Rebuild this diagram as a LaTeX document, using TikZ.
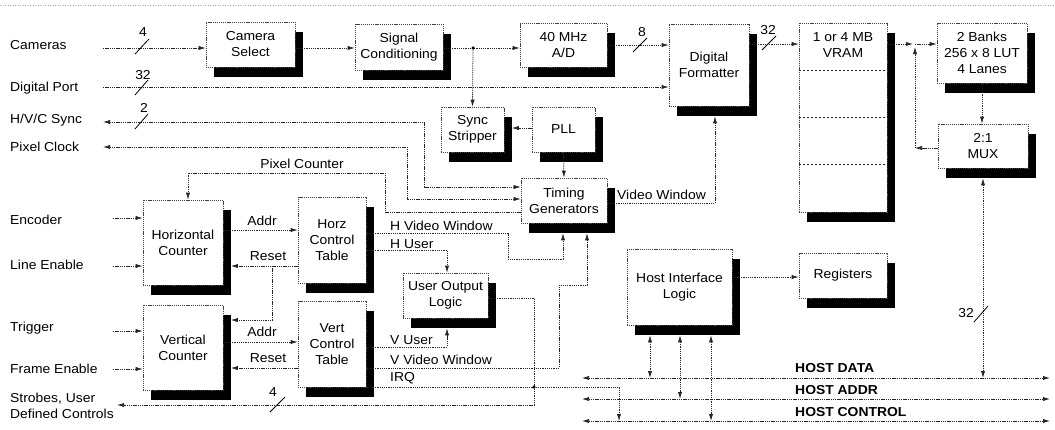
\documentclass[tikz,border=0pt]{standalone}
\usepackage{fontspec}
\setmainfont[FakeStretch=1.07]{Liberation Sans}
\usetikzlibrary{arrows.meta,calc}
\newcommand\mybox[5]{%
  \node[shad, minimum width=#3, minimum height=#4] (#1s) at ($(#2)+(7.5,10)$) {};
  \node[blk, minimum width=#3, minimum height=#4] (#1) at (#2) {#5};}
\begin{document}
\begin{tikzpicture}[x=1pt,y=-1pt,
  font=\fontsize{13}{16}\selectfont,
  ln/.style={line width=0.75pt, dash pattern=on 1.3pt off 0.9pt, black!85},
  arr/.style={ln, -{Latex[length=7pt,width=4.2pt]}},
  darr/.style={ln, {Latex[length=7pt,width=4.2pt]}-{Latex[length=7pt,width=4.2pt]}},
  blk/.style={draw=black!75, line width=0.6pt, dash pattern=on 1.1pt off 0.8pt, fill=white, align=center, inner sep=0pt},
  shad/.style={fill=black, draw=none, inner sep=0pt},
  lbl/.style={anchor=west, inner sep=0pt},
  num/.style={inner sep=0pt},
  slash/.style={line width=0.8pt, black},
  dot/.style={circle, fill=black, inner sep=0pt, minimum size=3.5pt},
  divl/.style={line width=0.7pt, dash pattern=on 2.5pt off 1.5pt, black!85},
]
\useasboundingbox (0,0) rectangle (1055,429);
\draw[black!35, dash pattern=on 1pt off 1.5pt] (0,5) -- (1055,5);

% ---------- boxes ----------
\mybox{cam}{250.5,44.5}{89pt}{45pt}{Camera\\Select}
\mybox{sig}{399,47}{88pt}{46pt}{Signal\\Conditioning}
\mybox{ad}{563.5,45}{87pt}{44pt}{40 MHz\\A/D}
\mybox{df}{709,65}{80pt}{82pt}{Digital\\Formatter}
\mybox{vram}{843,117.5}{88pt}{189pt}{}
\node[align=center, inner sep=0pt] (vramtxt) at (843,45) {1 or 4 MB\\VRAM};
\mybox{lut}{982,53}{90pt}{60pt}{2 Banks\\256 x 8 LUT\\4 Lanes}
\mybox{mux}{983,146}{90pt}{44pt}{2:1\\MUX}
\mybox{sync}{472.5,129.5}{63pt}{45pt}{Sync\\Stripper}
\mybox{pll}{563.5,129.5}{63pt}{45pt}{PLL}
\mybox{tg}{564,200.5}{86pt}{45pt}{Timing\\Generators}
\mybox{hc}{183,242.5}{80pt}{85pt}{Horizontal\\Counter}
\mybox{hct}{332,240}{68pt}{86pt}{Horz\\Control\\Table}
\mybox{vc}{183,347.5}{80pt}{85pt}{Vertical\\Counter}
\mybox{vct}{332,344}{68pt}{86pt}{Vert\\Control\\Table}
\mybox{uol}{445.5,295.5}{85pt}{45pt}{User Output\\Logic}
\mybox{hil}{679.5,287}{105pt}{76pt}{Host Interface\\Logic}
\mybox{reg}{843,275.5}{88pt}{45pt}{Registers}

\draw[divl] (vram.west |- 0,70) -- (vram.east |- 0,70);
\draw[divl] (vram.west |- 0,117) -- (vram.east |- 0,117);
\draw[divl] (vram.west |- 0,164) -- (vram.east |- 0,164);

% ---------- left labels ----------
\node[lbl] (lcam) at (10,45) {Cameras};
\node[lbl] (ldp) at (10,88) {Digital Port};
\node[lbl] (lsync) at (10,120) {H/V/C Sync};
\node[lbl] (lpc) at (10,147) {Pixel Clock};
\node[lbl] (lenc) at (10,220) {Encoder};
\node[lbl] (lle) at (10,265) {Line Enable};
\node[lbl] (ltrig) at (10,328) {Trigger};
\node[lbl] (lfe) at (10,369) {Frame Enable};
\node[lbl, align=left] (lstr) at (10,406) {Strobes, User\\Defined Controls};

% ---------- free ends ----------
\coordinate (camin) at (103,48);
\coordinate (dpin) at (103,87);
\coordinate (syncout) at (103,122);
\coordinate (pcout) at (103,147);
\coordinate (encin) at (113,218);
\coordinate (lein) at (113,266);
\coordinate (trin) at (113,331);
\coordinate (fein) at (113,369);
\coordinate (strout) at (117,405);
\coordinate (hdL) at (582,378);
\coordinate (hdR) at (1050,378);
\coordinate (haL) at (582,399);
\coordinate (haR) at (1050,399);
\coordinate (hcL) at (582,421);
\coordinate (hcR) at (1050,421);
\coordinate (j2) at (915,44);
\coordinate (j3) at (915,148);

% ---------- video path ----------
\draw[arr] (camin) -- (cam.west |- camin);
\draw[arr] (cam.east |- camin) -- (sig.west |- camin);
\draw[arr] (sig.east |- camin) -- (ad.west |- camin);
\node[dot] (j1) at (473,48) {};
\draw[arr] (j1) -- (sync.north);
\draw[arr] (ad.east |- 0,45) -- (df.west |- 0,45);
\draw[arr] (dpin) -- (df.west |- dpin);
\draw[arr] (df.east |- 0,44) -- (vram.west |- 0,44);
\draw[arr] (vram.east |- j2) -- ([xshift=-2pt]j2);
\draw[arr] (j2) -- (lut.west |- j2);
\draw[arr] (mux.west |- j3) -- (j3);
\draw[arr] (j3) -- ([yshift=-3pt]j2);
\draw[arr] (lut.south) -- (lut.south |- mux.north);
\draw[darr, shorten <=10pt] (mux.south) -- (mux.south |- hdL);

% slashes
\draw[slash] (135,54) -- (149,39);  \node[num] (n4a) at (143,32) {4};
\draw[slash] (135,95) -- (148,80);  \node[num] (n32a) at (143,75) {32};
\draw[slash] (135,129) -- (148,114); \node[num] (n2) at (144,108) {2};
\draw[slash] (633,52) -- (647,38);  \node[num] (n8) at (642,32) {8};
\draw[slash] (762,50) -- (776,36);  \node[num] (n32b) at (768,30) {32};
\draw[slash] (974,322) -- (988,306); \node[num] (n32c) at (966,313) {32};
\draw[slash] (270,412) -- (285,397); \node[num] (n4b) at (273,392) {4};

% ---------- host buses ----------
\draw[darr] (hdL) -- (hdR);
\draw[darr] (haL) -- (haR);
\draw[darr] (hcL) -- (hcR);
\node[lbl, font=\fontsize{13}{16}\selectfont\bfseries] (thd) at (795,368) {HOST DATA};
\node[lbl, font=\fontsize{13}{16}\selectfont\bfseries] (tha) at (795,390) {HOST ADDR};
\node[lbl, font=\fontsize{13}{16}\selectfont\bfseries] (thc) at (795,412) {HOST CONTROL};
\draw[darr, shorten <=10pt] (650,0 |- hil.south) -- (650,0 |- hdL);
\draw[darr, shorten <=10pt] (680,0 |- hil.south) -- (680,0 |- haL);
\draw[darr, shorten <=10pt] (711,0 |- hil.south) -- (711,0 |- hcL);
\draw[arr] (hil.east |- 0,277) -- (reg.west |- 0,277);

% ---------- timing ----------
\draw[arr, shorten >=7.5pt] (pll.west |- 0,128) -- (sync.east |- 0,128);
\draw[arr] (pll.south) -- (tg.north);
\draw[arr, shorten >=10pt] (tg.east |- 0,203) -- (715,203) -- (715,0 |- df.south);
\node[lbl] (tvw) at (617,195) {Video Window};
\draw[darr] (syncout) -- (424,122) -- (424,187) -- (tg.west |- 0,187);
\draw[darr] (pcout) -- (407,147) -- (407,199) -- (tg.west |- 0,199);
\draw[arr] (tg.west |- 0,212) -- (385,212) -- (385,173) -- (188,173) -- (188,0 |- hc.north);
\node[num] (tpc) at (302,164) {Pixel Counter};

% ---------- counters ----------
\draw[arr] (encin) -- (hc.west |- encin);
\draw[arr] (lein) -- (hc.west |- lein);
\draw[arr] (trin) -- (vc.west |- trin);
\draw[arr] (fein) -- (vc.west |- fein);
\draw[arr] (hc.east |- 0,230) -- (hct.west |- 0,230);
\node[num] (taddrh) at (262,221) {Addr};
\draw[arr, shorten >=7.5pt] (hct.west |- 0,266) -- (hc.east |- 0,266);
\node[num] (tresh) at (268,256) {Reset};
\draw[arr, shorten >=7.5pt] (272,266) -- (272,320) -- (vc.east |- 0,320);
\draw[arr] (vc.east |- 0,342) -- (vct.west |- 0,342);
\node[num] (taddrv) at (262,332) {Addr};
\draw[arr, shorten >=7.5pt] (vct.west |- 0,368) -- (vc.east |- 0,368);
\node[num] (tresv) at (268,358) {Reset};

% ---------- control table outputs ----------
\draw[arr, shorten >=10pt] (hct.east |- 0,233) -- (508,233) -- (508,259) -- (563,259) -- (563,0 |- tg.south);
\node[lbl] (thvw) at (390,226) {H Video Window};
\draw[arr] (hct.east |- 0,250) -- (447,250) -- (447,0 |- uol.north);
\node[lbl] (thu) at (390,244) {H User};
\draw[arr, shorten >=10pt] (vct.east |- 0,347) -- (447,347) -- (447,0 |- uol.south);
\node[lbl] (tvu) at (390,340) {V User};
\draw[arr, shorten >=10pt] (vct.east |- 0,368) -- (559,368) -- (559,285) -- (587,285) -- (587,0 |- tg.south);
\node[lbl] (tvvw) at (390,360) {V Video Window};
\draw[arr] (vct.east |- 0,387) -- (619,387) -- (619,0 |- hcL);
\node[lbl] (tirq) at (390,378) {IRQ};
\draw[arr] (uol.east |- 0,298) -- (534,298) -- (534,405) -- (strout);
\node[dot] (j4) at (534,387) {};
\end{tikzpicture}
\end{document}
